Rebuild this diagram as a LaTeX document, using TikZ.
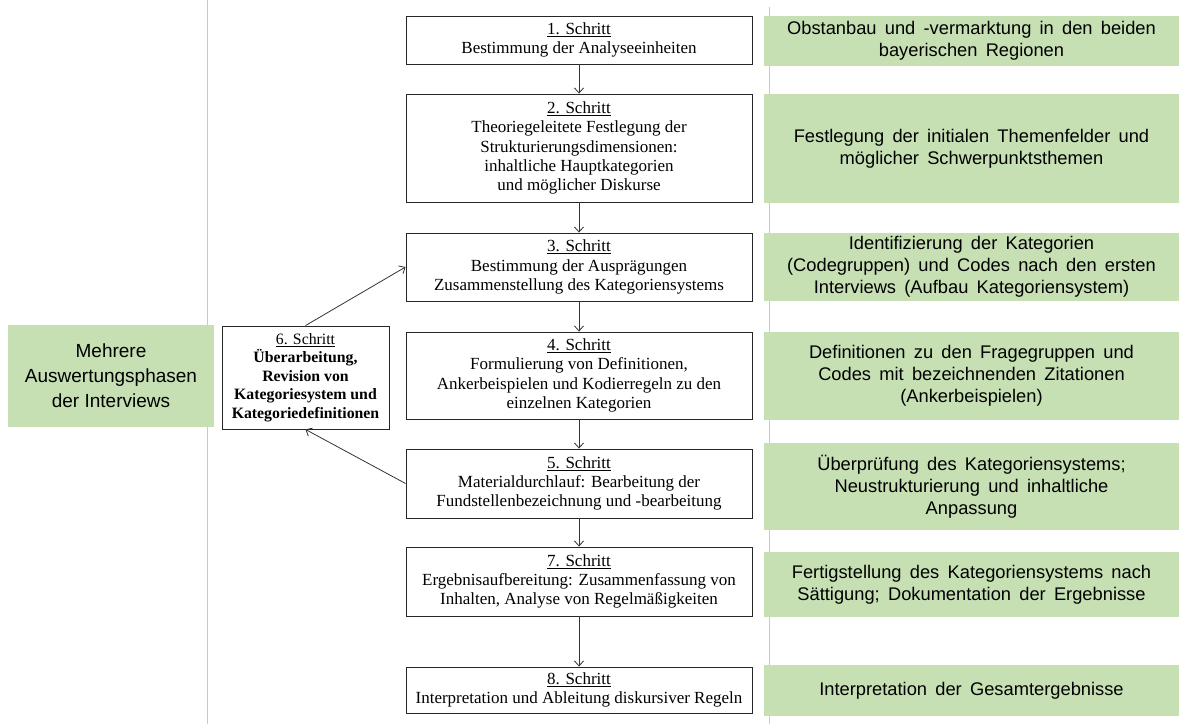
\documentclass[tikz,border=0pt]{standalone}
\usepackage{fontspec}
\setmainfont{Liberation Serif}
\newfontfamily\arialf{Liberation Sans}
\usetikzlibrary{arrows.meta}
\definecolor{lgreen}{RGB}{198,224,180}
\definecolor{gline}{RGB}{200,200,200}
\newcommand\gspacing{\spaceskip=0.45em plus 0.1em\relax}
\tikzset{
  stepbox/.style={draw=black!85, line width=0.9pt, fill=white, align=center, inner sep=0pt,
    font=\fontsize{17}{19.3}\selectfont},
  greenbox/.style={fill=lgreen, draw=none, align=center, inner sep=0pt,
    font=\arialf\fontsize{18.3}{22}\selectfont\gspacing},
  conn/.style={draw=black!80, line width=0.8pt, -{Straight Barb[length=5pt,width=9pt]}},
}
\begin{document}
\begin{tikzpicture}[x=1pt,y=-1pt]
\useasboundingbox (0,0) rectangle (1179,724);
% grey separator lines
\draw[gline, line width=0.8pt] (207,0) -- (207,724);
\draw[gline, line width=0.8pt] (769,7) -- (769,724);
% main steps
\node[stepbox, minimum width=346pt, minimum height=48pt] (b1) at (579,40)
  {\underline{1. Schritt}\\Bestimmung der Analyseeinheiten};
\node[stepbox, minimum width=346pt, minimum height=108pt] (b2) at (579,148)
  {\underline{2. Schritt}\\Theoriegeleitete Festlegung der\\Strukturierungsdimensionen:\\inhaltliche Hauptkategorien\\und möglicher Diskurse};
\node[stepbox, minimum width=346pt, minimum height=68pt] (b3) at (579,267)
  {\underline{3. Schritt}\\Bestimmung der Ausprägungen\\Zusammenstellung des Kategoriensystems};
\node[stepbox, minimum width=346pt, minimum height=87pt] (b4) at (579,375.5)
  {\underline{4. Schritt}\\Formulierung von Definitionen,\\Ankerbeispielen und Kodierregeln zu den\\einzelnen Kategorien};
\node[stepbox, minimum width=346pt, minimum height=69pt] (b5) at (579,483.5)
  {\underline{5. Schritt}\\Materialdurchlauf: Bearbeitung der\\Fundstellenbezeichnung und -bearbeitung};
\node[stepbox, minimum width=346pt, minimum height=69pt] (b7) at (579,581.5)
  {\underline{7. Schritt}\\Ergebnisaufbereitung: Zusammenfassung von\\Inhalten, Analyse von Regelmäßigkeiten};
\node[stepbox, minimum width=346pt, minimum height=46pt] (b8) at (579,690)
  {\underline{8. Schritt}\\Interpretation und Ableitung diskursiver Regeln};
\node[stepbox, minimum width=167pt, minimum height=103pt, font=\fontsize{15.8}{18.5}\selectfont] (b6) at (305.5,377.5)
  {\underline{6. Schritt}\\\textbf{Überarbeitung,}\\\textbf{Revision von}\\\textbf{Kategoriesystem und}\\\textbf{Kategoriedefinitionen}};
% connectors
\draw[conn] (b1) -- (b2);
\draw[conn] (b2) -- (b3);
\draw[conn] (b3) -- (b4);
\draw[conn] (b4) -- (b5);
\draw[conn] (b5) -- (b7);
\draw[conn] (b7) -- (b8);
\draw[conn] (b6.north) -- (b3.west);
\draw[conn] (b5.west) -- (b6.south);
% green boxes right
\node[greenbox, minimum width=415pt, minimum height=50pt] (g1) at (971.5,41)
  {Obstanbau und -vermarktung in den beiden\\bayerischen Regionen};
\node[greenbox, minimum width=415pt, minimum height=109pt] (g2) at (971.5,148.5)
  {Festlegung der initialen Themenfelder und\\möglicher Schwerpunktsthemen};
\node[greenbox, minimum width=415pt, minimum height=68pt] (g3) at (971.5,267)
  {Identifizierung der Kategorien\\(Codegruppen) und Codes nach den ersten\\Interviews (Aufbau Kategoriensystem)};
\node[greenbox, minimum width=415pt, minimum height=88pt] (g4) at (971.5,376)
  {Definitionen zu den Fragegruppen und\\Codes mit bezeichnenden Zitationen\\(Ankerbeispielen)};
\node[greenbox, minimum width=415pt, minimum height=87pt] (g5) at (971.5,486.5)
  {Überprüfung des Kategoriensystems;\\Neustrukturierung und inhaltliche\\Anpassung};
\node[greenbox, minimum width=415pt, minimum height=65pt] (g6) at (971.5,584.5)
  {Fertigstellung des Kategoriensystems nach\\Sättigung; Dokumentation der Ergebnisse};
\node[greenbox, minimum width=415pt, minimum height=51pt] (g7) at (971.5,690.5)
  {Interpretation der Gesamtergebnisse};
% left green box
\node[greenbox, minimum width=206pt, minimum height=102pt, font=\arialf\fontsize{19}{25}\selectfont] (gl) at (111,376)
  {Mehrere\\Auswertungsphasen\\der Interviews};
\end{tikzpicture}
\end{document}
